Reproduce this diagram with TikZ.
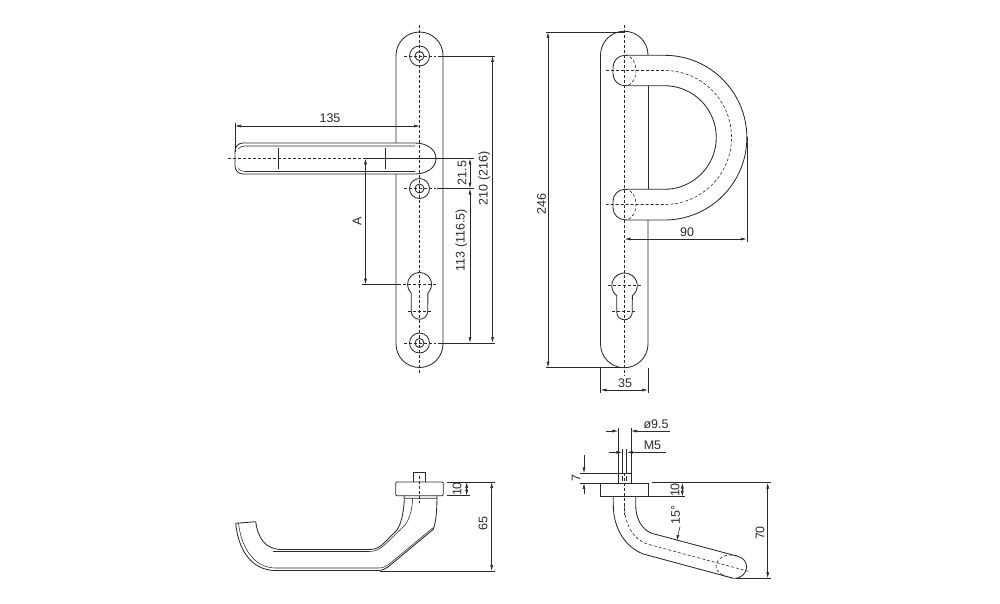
\documentclass[tikz,border=0pt]{standalone}
\usepackage{fontspec}
\setmainfont{Liberation Sans}
\usetikzlibrary{arrows.meta}
\definecolor{inkgray}{HTML}{2A2A2A}
\tikzset{
	outline/.style={draw=inkgray, line width=0.85pt},
	thinline/.style={draw=inkgray, line width=0.55pt},
	centerline/.style={draw=inkgray, line width=0.6pt, dash pattern=on 3pt off 2pt},
	dimline/.style={draw=inkgray, line width=0.6pt, {Latex[length=6pt,width=3pt]}-{Latex[length=6pt,width=3pt]}},
	arrowline/.style={draw=inkgray, line width=0.6pt, -{Latex[length=6pt,width=3pt]}},
	extline/.style={draw=inkgray, line width=0.6pt},
	dimlabel/.style={font=\fontsize{12.5}{12.5}\selectfont, text=inkgray, inner sep=0pt},
}
\begin{document}
\begin{tikzpicture}[x=1pt,y=-1pt]
	\useasboundingbox (0,0) rectangle (1000,604);

	% front view, plate
	\draw[outline] (396,143) -- (396,55.5) arc[start angle=-180, end angle=0, radius=23.5] -- (443,344) arc[start angle=0, end angle=180, radius=23.5] -- (396,174);
	\draw[centerline] (419.5,25) -- (419.5,375);

	% screws
	\foreach \sy in {56,188.5,343} {
		\draw[outline] (419.5,\sy) circle (10);
		\draw[outline] (419.5,\sy) circle (4.5);
		\draw[centerline] (404,\sy) -- (436,\sy);
	}

	% keyhole
	\draw[outline] (411.2,293.1) arc[start angle=133.9, end angle=406.1, radius=12] -- (427.8,311) arc[start angle=0, end angle=180, radius=8.3] -- cycle;
	\draw[centerline] (403,284.5) -- (437,284.5);
	\draw[centerline] (408,311) -- (432,311);

	% lever
	\draw[outline] (415,143) -- (243,143) to[out=180,in=90] (235,151) -- (235,166) to[out=-90,in=180] (243,174) -- (415,174) to[out=0,in=-90] (436,158.5) to[out=90,in=0] (415,143) -- cycle;
	\draw[thinline] (415,146) -- (245,146) to[out=180,in=45] (238,149);
	\draw[thinline] (415,171.5) -- (245,171.5) to[out=180,in=-45] (238,168.5);
	\draw[thinline] (278,148) -- (278,169);
	\draw[thinline] (385.5,148) -- (385.5,169);
	\draw[centerline] (228,158.5) -- (366,158.5);

	% front view, dimensions
	\coordinate (leverleft) at (235,126);
	\coordinate (leverpivot) at (420,126);
	\draw[extline] (235,123) -- (235,152);
	\path (leverleft) edge[dimline] (leverpivot);
	\node[dimlabel] (label135) at (330,118.5) {135};

	\coordinate (atop) at (365.5,158.5);
	\coordinate (abot) at (365.5,284.5);
	\draw[extline] (366,158.5) -- (474,158.5);
	\draw[extline] (362,284.5) -- (401,284.5);
	\path (atop) edge[dimline] (abot);
	\node[dimlabel,rotate=90] (labelA) at (357,221) {A};

	\draw[extline] (437,188.5) -- (474,188.5);
	\draw[extline] (438,56) -- (495,56);
	\draw[extline] (438,343) -- (495,343);
	\coordinate (d215a) at (470,158.5);
	\coordinate (d215b) at (470,188.5);
	\coordinate (d113b) at (470,343);
	\coordinate (d210a) at (492.5,56);
	\coordinate (d210b) at (492.5,343);
	\path (d215a) edge[dimline] (d215b);
	\path (d215b) edge[dimline] (d113b);
	\path (d210a) edge[dimline] (d210b);
	\node[dimlabel,rotate=90] (label215) at (462,173) {21.5};
	\node[dimlabel,rotate=90] (label113) at (461.5,240.5) {113\hspace{4pt}(116.5)};
	\node[dimlabel,rotate=90] (label210) at (484.5,178) {210\hspace{4pt}(216)};

	% side view, plate
	\draw[outline] (648,55.3) -- (648,55) arc[start angle=0, end angle=-180, radius=23.75] -- (600.5,344) arc[start angle=180, end angle=0, radius=23.75] -- (648,220);
	\draw[outline] (648,85.7) -- (648,189.3);
	\draw[centerline] (624.5,25) -- (624.5,376);

	% side view, handle
	\foreach \hy in {55.3,189.3} {
		\draw[outline] (625,\hy) to[out=180,in=90] (613,\hy+12) -- (613,\hy+18.5) to[out=-90,in=180] (625,\hy+30.5);
		\draw[centerline] (625,\hy) to[out=0,in=90] (636,\hy+15) to[out=-90,in=0] (625,\hy+30.5);
	}
	\draw[outline] (625,55.3) -- (664.5,55.3) arc[start angle=-90, end angle=90, radius=82.35] -- (625,220);
	\draw[outline] (625,85.7) -- (664.5,85.7) arc[start angle=-90, end angle=90, radius=51.8] -- (625,189.3);
	\draw[centerline] (606,70.5) -- (664.5,70.5) arc[start angle=-90, end angle=90, radius=67] -- (606,204.5);

	% side view, keyhole
	\draw[outline] (616.7,295.85) arc[start angle=127.6, end angle=412.4, radius=12.8] -- (632.3,312) arc[start angle=0, end angle=180, radius=7.8] -- cycle;
	\draw[centerline] (608,285.7) -- (641,285.7);
	\draw[centerline] (612,311.7) -- (637,311.7);

	% side view, dimensions
	\coordinate (d246a) at (548,32);
	\coordinate (d246b) at (548,367.7);
	\draw[extline] (546,32) -- (624,32);
	\draw[extline] (546,367.7) -- (624,367.7);
	\path (d246a) edge[dimline] (d246b);
	\node[dimlabel,rotate=90] (label246) at (541.5,204) {246};

	\coordinate (d35a) at (600.5,390);
	\coordinate (d35b) at (648,390);
	\draw[extline] (600.5,368) -- (600.5,393);
	\draw[extline] (648,368) -- (648,393);
	\path (d35a) edge[dimline] (d35b);
	\node[dimlabel] (label35) at (625,383) {35};

	\coordinate (d90a) at (624.5,239);
	\coordinate (d90b) at (746.8,239);
	\draw[extline] (746.8,137) -- (746.8,242);
	\path (d90a) edge[dimline] (d90b);
	\node[dimlabel] (label90) at (687,232.5) {90};

	% bottom left, rose and pin
	\draw[outline] (413.3,482) -- (413.3,472.3) -- (425,472.3) -- (425,482);
	\draw[outline, rounded corners=1pt] (395.7,482) rectangle (443.3,495.7);
	\draw[outline] (404,495.7) -- (404.3,498.3) -- (437,498.3) -- (437,495.7);
	\draw[centerline] (419.5,476) -- (419.5,503);

	% bottom left, handle
	\draw[outline] (235.7,523.3) -- (255.7,521.7);
	\draw[outline] (235.7,523.3) .. controls (238,548) and (250,570) .. (275,570.5) -- (378,570.5) .. controls (382,570.5) and (385,569) .. (388,567) -- (433.3,529.3) .. controls (436.5,520) and (436.7,510) .. (437,498.3);
	\draw[thinline] (238.5,523.1) .. controls (241,546) and (253,567.5) .. (275,568) -- (378,568) .. controls (382,568) and (385,567) .. (388,565) -- (433.3,527.5);
	\draw[outline] (255.7,521.7) .. controls (258,538) and (265,549.5) .. (282,549.5) -- (369,549.5) .. controls (375,549.5) and (378,548) .. (382,545) -- (397,530) .. controls (402,522) and (404,510) .. (404.3,498.3);
	\draw[thinline] (273,551.5) -- (369,551.5) .. controls (376,551.5) and (379,549.5) .. (384,545.5) -- (405,525) .. controls (410,518) and (412,510) .. (412.7,498.3);

	% bottom left, dimensions
	\coordinate (d10a) at (466.7,482);
	\coordinate (d10b) at (466.7,495.7);
	\coordinate (d65a) at (491.7,482);
	\coordinate (d65b) at (491.7,571);
	\draw[extline] (446.5,482) -- (495,482);
	\draw[extline] (446.5,495.7) -- (470,495.7);
	\draw[extline] (380,571) -- (495,571);
	\path (d10a) edge[dimline] (d10b);
	\path (d65a) edge[dimline] (d65b);
	\node[dimlabel,rotate=90] (label10l) at (457,489) {10};
	\node[dimlabel,rotate=90] (label65) at (483,523.5) {65};

	% bottom right, rose and pin
	\draw[outline] (600.7,483) rectangle (648.3,496.7);
	\draw[outline] (618.3,483) -- (618.3,473.3) -- (631,473.3) -- (631,483);
	\draw[thinline] (622.3,476) -- (622.3,481);
	\draw[thinline] (626.7,476) -- (626.7,481);
	\draw[centerline] (624.5,473) -- (624.5,515);

	% bottom right, handle
	\draw[outline] (613.3,496.7) -- (613.3,505) .. controls (613.3,528) and (625,547) .. (643.3,554) -- (733.3,578.3);
	\draw[outline] (635.7,496.7) -- (635.7,505) .. controls (635.7,518) and (641,529) .. (651.7,533.3) -- (736.7,556);
	\draw[outline] (736.7,556) .. controls (742,557) and (746.7,561) .. (746.7,567) .. controls (746.7,573) and (741,579) .. (733.3,578.3);
	\draw[centerline] (736.7,556) .. controls (725,552.5) and (716,559) .. (716,567) .. controls (716,572) and (724,577) .. (733.3,578.3);
	\draw[centerline] (624.5,505) .. controls (624.5,524) and (633,539) .. (647,544) -- (750,571.7);

	% bottom right, dimensions
	\coordinate (dpinl) at (618.3,431);
	\coordinate (dpinlout) at (606,431);
	\coordinate (dpinr) at (631,431);
	\coordinate (dpinrout) at (670,431);
	\coordinate (dml) at (622.3,452.3);
	\coordinate (dmlout) at (609,452.3);
	\coordinate (dmr) at (626.7,452.3);
	\coordinate (dmrout) at (666,452.3);
	\draw[extline] (618.3,428) -- (618.3,473.3);
	\draw[extline] (631,428) -- (631,473.3);
	\draw[extline] (622.3,449) -- (622.3,473.3);
	\draw[extline] (626.7,449) -- (626.7,473.3);
	\path (dpinlout) edge[arrowline] (dpinl);
	\path (dpinrout) edge[arrowline] (dpinr);
	\path (dmlout) edge[arrowline] (dml);
	\path (dmrout) edge[arrowline] (dmr);
	\node[dimlabel] (labelpin) at (656,424) {ø9.5};
	\node[dimlabel] (labelM) at (652.5,445) {M5};

	\coordinate (d7a) at (584,473.3);
	\coordinate (d7aout) at (584,455);
	\coordinate (d7b) at (584,483);
	\coordinate (d7bout) at (584,494);
	\draw[extline] (580,473.3) -- (618.3,473.3);
	\draw[extline] (580,483) -- (600,483);
	\path (d7aout) edge[arrowline] (d7a);
	\path (d7bout) edge[arrowline] (d7b);
	\node[dimlabel,rotate=90] (label7) at (576,478) {7};

	\coordinate (d10ra) at (682.3,482.7);
	\coordinate (d10rb) at (682.3,496.7);
	\coordinate (d70a) at (767.7,482.7);
	\coordinate (d70b) at (767.7,578.3);
	\draw[extline] (651.5,482.7) -- (771,482.7);
	\draw[extline] (649,496.7) -- (685,496.7);
	\draw[extline] (736,578.3) -- (771,578.3);
	\path (d10ra) edge[dimline] (d10rb);
	\path (d70a) edge[dimline] (d70b);
	\node[dimlabel,rotate=90] (label10r) at (675,490) {10};
	\node[dimlabel,rotate=90] (label70) at (760,533) {70};

	\coordinate (angfrom) at (680,526.5);
	\coordinate (angto) at (676.7,541);
	\path (angfrom) edge[arrowline] (angto);
	\node[dimlabel,rotate=90] (label15) at (675.5,515) {15°};
\end{tikzpicture}
\end{document}
